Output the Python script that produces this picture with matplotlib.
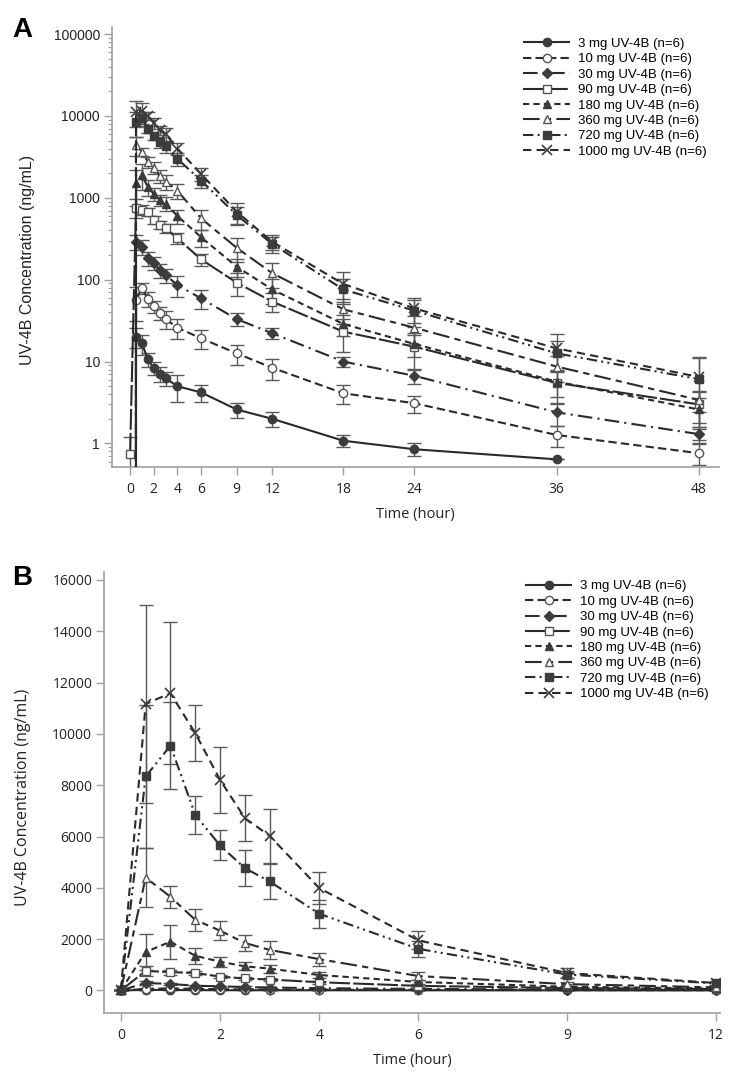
import numpy as np
import matplotlib.pyplot as plt

# sampling times (hour)
time = [0, 0.5, 1, 1.5, 2, 2.5, 3, 4, 6, 9, 12, 18, 24, 36, 48]

doses = ['3 mg UV-4B (n=6)', '10 mg UV-4B (n=6)', '30 mg UV-4B (n=6)', '90 mg UV-4B (n=6)',
         '180 mg UV-4B (n=6)', '360 mg UV-4B (n=6)', '720 mg UV-4B (n=6)', '1000 mg UV-4B (n=6)']

# mean concentration (ng/mL) and SD
mean_3 = [0, 20.1, 16.7, 10.7, 8.3, 7.1, 6.25, 5.0, 4.2, 2.6, 2.0, 1.08, 0.85, 0.64, np.nan]
sd_3 = [0, 5.5, 4.5, 2.2, 1.5, 1.4, 1.2, 1.8, 1.0, 0.55, 0.43, 0.18, 0.15, 0, np.nan]

mean_10 = [0, 56.5, 79.8, 58.1, 47.7, 38.9, 33.1, 25.9, 19.2, 12.6, 8.4, 4.1, 3.1, 1.27, 0.76]
sd_10 = [0, 25, 12, 12, 8, 7, 8, 7, 5, 3.5, 2.5, 1.05, 0.75, 0.37, 0.22]

mean_30 = [0, 291, 253, 182, 161, 131, 114, 86, 59, 33, 22.2, 10.0, 6.7, 2.4, 1.3]
sd_30 = [0, 60, 50, 35, 30, 25, 22, 25, 15, 6, 3.5, 1.4, 1.3, 0.75, 0.3]

mean_90 = [0.75, 760, 715, 680, 540, 465, 425, 320, 177, 92, 54, 23.2, 15.2, 5.5, 3.0]
sd_90 = [0.45, 200, 100, 80, 60, 50, 50, 50, 30, 28, 14, 10, 7, 2.5, 1.2]

mean_180 = [0, 1500, 1900, 1350, 1120, 940, 850, 600, 330, 144, 76, 28.8, 16.4, 5.7, 2.6]
sd_180 = [0, 700, 670, 310, 200, 150, 160, 120, 80, 35, 25, 8, 5, 2, 1]

mean_360 = [0, 4400, 3650, 2750, 2330, 1850, 1580, 1220, 560, 245, 120, 43.5, 25.9, 8.7, 3.4]
sd_360 = [0, 1150, 420, 420, 375, 320, 340, 250, 150, 80, 40, 15, 10, 3, 1]

mean_720 = [0, 8340, 9545, 6845, 5650, 4767, 4247, 2988, 1620, 617, 273, 76, 41.8, 12.6, 6.1]
sd_720 = [0, 2790, 1680, 730, 585, 700, 700, 550, 300, 150, 60, 25, 15, 5, 5]

mean_1000 = [0, 11170, 11585, 10027, 8208, 6716, 6027, 3989, 1950, 676, 290, 88.6, 44.6, 14.5, 6.5]
sd_1000 = [0, 3850, 2770, 1085, 1300, 900, 1040, 620, 350, 200, 60, 35, 15, 7, 5]

means = [mean_3, mean_10, mean_30, mean_90, mean_180, mean_360, mean_720, mean_1000]
sds = [sd_3, sd_10, sd_30, sd_90, sd_180, sd_360, sd_720, sd_1000]

line_c = '#2a2a2a'
fill_c = '#3c3c3c'
err_c = '#5a5a5a'
spine_c = '#a0a0a0'

# (marker, filled, dash pattern)
styles = [
    ('o', True, (0, ())),
    ('o', False, (0, (4, 2))),
    ('D', True, (0, (7, 2.5, 1, 2.5))),
    ('s', False, (0, (10, 1.5))),
    ('^', True, (0, (3, 2))),
    ('^', False, (0, (8, 2.5, 3, 2.5))),
    ('s', True, (0, (5, 2, 1, 2, 1, 2))),
    ('x', True, (0, (4, 2.5))),
]
msizes = [6, 6, 5, 6, 6, 6, 6, 7]


def draw(ax, tmax, leg_anchor):
    t = np.array(time)
    keep = t <= tmax
    for m, s, lab, (mk, filled, ls), ms in zip(means, sds, doses, styles, msizes):
        m = np.array(m, dtype=float)[keep]
        s = np.array(s, dtype=float)[keep]
        ax.errorbar(t[keep], m, yerr=s, fmt='none', ecolor=err_c, elinewidth=1,
                    capsize=5, capthick=1, zorder=2)
        if filled:
            mfc = fill_c
            mec = fill_c
        else:
            mfc = 'white'
            mec = '#555555'
        ax.plot(t[keep], m, color=line_c, lw=1.5, linestyle=ls, marker=mk, ms=ms,
                mfc=mfc, mec=mec, mew=1.0 if mk != 'x' else 1.2, label=lab, zorder=3)
    for side in ['top', 'right']:
        ax.spines[side].set_visible(False)
    for side in ['left', 'bottom']:
        ax.spines[side].set_color(spine_c)
        ax.spines[side].set_linewidth(1.2)
    ax.tick_params(which='major', direction='out', length=6, width=1, color=spine_c,
                   labelsize=10, labelcolor='#222222', pad=2.5)
    ax.tick_params(axis='x', pad=5)
    ax.tick_params(which='minor', direction='out', length=3, width=0.8, color=spine_c)
    ax.set_xlabel('Time (hour)', fontsize=10.5, color='#222222', family='Open Sans', labelpad=7)
    ax.set_ylabel('UV-4B Concentration (ng/mL)', fontsize=11.5, color='#222222')
    leg = ax.legend(loc='upper right', bbox_to_anchor=leg_anchor, frameon=False,
                    fontsize=9.5, handlelength=3.6, handletextpad=0.6, labelspacing=0.24,
                    borderaxespad=0.2)
    for txt in leg.get_texts():
        txt.set_family('Liberation Sans')
    return ax


plt.rcParams['font.family'] = ['Liberation Sans', 'DejaVu Sans']

fig = plt.figure(figsize=(7.33, 10.83), dpi=100)

# panel A, log scale
axA = fig.add_axes([111.7 / 733, 1 - 467 / 1083, (719 - 111.7) / 733, (467 - 26.7) / 1083])
axA.set_yscale('log')
draw(axA, 48, (0.993, 0.993))
axA.set_xlim(-1.55, 49.7)
axA.set_ylim(0.516, 1.23e5)
axA.set_xticks([0, 2, 4, 6, 9, 12, 18, 24, 36, 48])
axA.set_yticks([1, 10, 100, 1000, 10000, 100000])
axA.set_yticklabels(['1', '10', '100', '1000', '10000', '100000'])
for lab in axA.get_xticklabels():
    lab.set_family('Open Sans')
axA.yaxis.set_label_coords(-0.127, 0.47)

# panel B, linear scale
axB = fig.add_axes([104 / 733, 1 - 1013 / 1083, (720 - 104) / 733, (1013 - 572.3) / 1083])
draw(axB, 12, (0.995, 1.0))
axB.set_xlim(-0.34, 12.08)
axB.set_ylim(-880, 16300)
axB.set_xticks([0, 2, 4, 6, 9, 12])
axB.set_yticks(range(0, 16001, 2000))
for lab in axB.get_xticklabels() + axB.get_yticklabels():
    lab.set_family('Open Sans')
axB.yaxis.label.set_family('Open Sans')
axB.yaxis.set_label_coords(-0.118, 0.49)

fig.text(0.017, 0.984, 'A', fontsize=20, fontweight='bold', va='top', ha='left')
fig.text(0.017, 0.478, 'B', fontsize=20, fontweight='bold', va='top', ha='left')

fig.savefig('out.png', dpi=100)
